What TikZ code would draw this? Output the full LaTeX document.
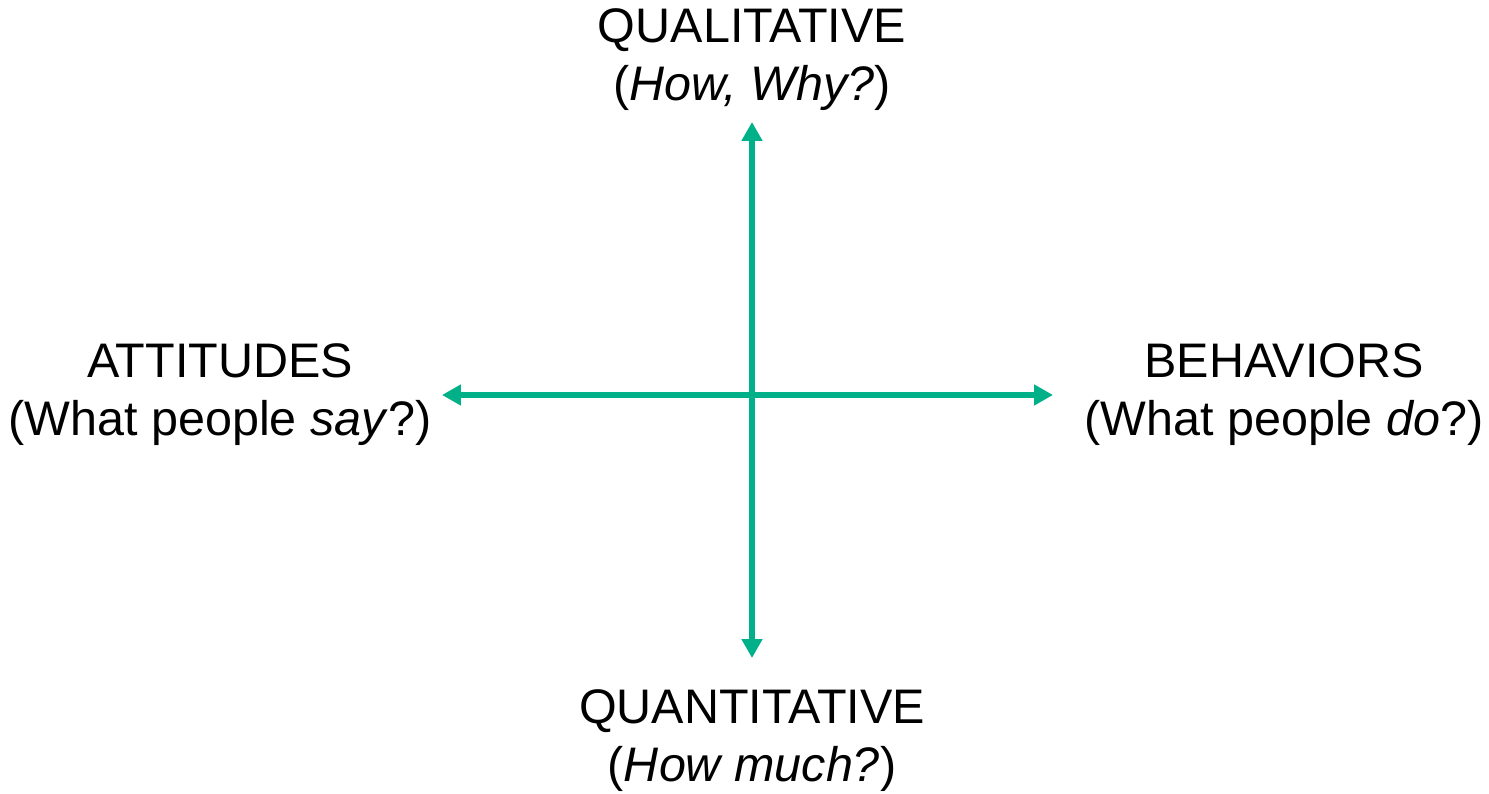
\documentclass[tikz,border=0pt]{standalone}
\usepackage{fontspec}
\setmainfont{Liberation Sans}
\usepackage{tikz}
\usetikzlibrary{positioning, arrows.meta}
\definecolor{axisgreen}{RGB}{0,176,137}

\begin{document}
\begin{tikzpicture}[x=0.02cm, y=-0.02cm,
    axis/.style={draw=axisgreen, line width=0.11cm, {Triangle[length=0.38cm, width=0.4cm]}-{Triangle[length=0.38cm, width=0.4cm]}},
    every node/.style={align=center, inner sep=0pt, font=\fontsize{27.6}{33}\selectfont}]
    \useasboundingbox (0,0) rectangle (1489,794);
    % Axis end points
    \coordinate (origin) at (752,395);
    \coordinate (up) at (752,122);
    \coordinate (down) at (752,658);
    \coordinate (left) at (442,395);
    \coordinate (right) at (1053,395);
    % Axes
    \draw[axis] (down) -- (up);
    \draw[axis] (left) -- (right);
    % Axis labels
    \node (qual) at (752,60) {QUALITATIVE\\(\textit{How, Why?})};
    \node (quant) at (752,741) {QUANTITATIVE\\(\textit{How much?})};
    \node (attit) at (220,395) {ATTITUDES\\(What people \textit{say}?)};
    \node (behav) at (1284,395) {BEHAVIORS\\(What people \textit{do}?)};
\end{tikzpicture}
\end{document}
